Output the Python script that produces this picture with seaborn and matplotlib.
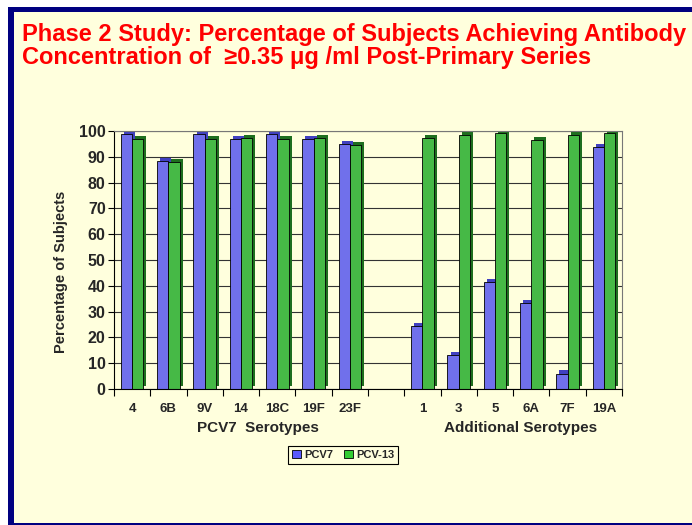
import matplotlib
matplotlib.use("Agg")
import matplotlib.pyplot as plt
import matplotlib.patches as mpatches
import matplotlib.patheffects as pe
import matplotlib.transforms as mtransforms
import seaborn as sns
import pandas as pd
import numpy as np

categories = ["4", "6B", "9V", "14", "18C", "19F", "23F", "", "1", "3", "5", "6A", "7F", "19A"]
pcv7 = [98.8, 88.4, 98.8, 97.0, 98.8, 97.0, 95.1, np.nan, 24.3, 13.0, 41.3, 33.3, 6.0, 93.9]
pcv13 = [96.8, 87.9, 96.8, 97.4, 96.8, 97.4, 94.6, np.nan, 97.3, 98.4, 99.4, 96.4, 98.4, 99.4]
series = ["PCV7", "PCV-13"]
group_labels = ["PCV7  Serotypes", "Additional Serotypes"]
title = "Phase 2 Study: Percentage of Subjects Achieving Antibody\nConcentration of  \u22650.35 \u03bcg /ml Post-Primary Series"

sns.set_theme(style="white")
plt.rcParams["font.family"] = ["Liberation Sans", "DejaVu Sans"]

cream = "#FFFFDD"
navy = "#000080"
blue = "#5B5BFF"
green = "#33CC33"

fig = plt.figure(figsize=(6.92, 5.25), dpi=100, facecolor="white")
W, H = 692, 525
fig.patches.append(mpatches.Rectangle((8 / W, 0), 1, 1 - 7 / H, transform=fig.transFigure,
                                      facecolor=navy, edgecolor="none", zorder=-10))
fig.patches.append(mpatches.Rectangle((14 / W, 2 / H), 1, 1 - 12 / H - 2 / H, transform=fig.transFigure,
                                      facecolor=cream, edgecolor="none", zorder=-9))

ax = fig.add_axes([114 / W, 1 - 389 / H, (622 - 114) / W, (389 - 131) / H])
ax.set_facecolor(cream)

df = pd.DataFrame({
    "cat": categories * 2,
    "val": pcv7 + pcv13,
    "series": [series[0]] * len(categories) + [series[1]] * len(categories),
})
sns.barplot(data=df, x="cat", y="val", hue="series", order=categories,
            palette=[blue, green], width=0.62, edgecolor="black", linewidth=0.6,
            ax=ax, legend=False, gap=0)

for i, cont in enumerate(ax.containers):
    sc = ["#4040C0", "#1E6E1E"][i]
    for p in cont.patches:
        p.set_path_effects([pe.SimplePatchShadow(offset=(2.2, 2.2), shadow_rgbFace=sc, alpha=1.0),
                            pe.Normal()])

ax.set_ylim(0, 100)
ax.set_xlim(-0.5, len(categories) - 0.5)
ax.set_yticks(range(0, 101, 10))
ax.set_yticklabels([str(v) for v in range(0, 101, 10)], fontsize=11.5, fontweight="bold")
ax.yaxis.grid(True, color="#333333", linewidth=0.8)
ax.set_axisbelow(True)
for s in ax.spines.values():
    s.set_color("black")
    s.set_linewidth(0.8)
ax.spines["top"].set_color("#777777")
ax.spines["right"].set_color("#777777")

ax.set_xticks(range(len(categories)))
ax.set_xticklabels(categories, fontsize=9.5, fontweight="bold")
ax.tick_params(axis="x", length=0, pad=10)
ax.tick_params(axis="y", length=4, width=0.8, color="black", left=True, pad=2)
ax.set_xticks(np.arange(-0.5, len(categories), 1.0), minor=True)
ax.tick_params(axis="x", which="minor", length=5, width=0.8, color="black", bottom=True)

ax.set_xlabel("")
ax.set_ylabel("Percentage of Subjects", fontsize=10.5, fontweight="bold")
ax.yaxis.set_label_coords((68 - 114) / 508, (389 - 272) / 258)

trans = mtransforms.blended_transform_factory(ax.transData, fig.transFigure)
ax.text(3.47, 1 - 428 / H, group_labels[0], transform=trans, ha="center", va="center",
        fontsize=11, fontweight="bold")
ax.text(10.7, 1 - 428 / H, group_labels[1], transform=trans, ha="center", va="center",
        fontsize=11, fontweight="bold")

handles = [mpatches.Patch(facecolor=blue, edgecolor="black", linewidth=0.6),
           mpatches.Patch(facecolor=green, edgecolor="black", linewidth=0.6)]
leg = fig.legend(handles, series, loc="center", bbox_to_anchor=(343 / W, 1 - 455 / H), ncol=2,
                 frameon=True, fancybox=False, edgecolor="black", facecolor=cream,
                 prop={"weight": "bold", "size": 8}, handlelength=0.8, handleheight=0.8,
                 handletextpad=0.3, columnspacing=1.0, borderpad=0.35, framealpha=1)
leg.get_frame().set_linewidth(0.8)

fig.text(22 / W, 1 - 23 / H, title, ha="left", va="top", color="#FF0000",
         fontsize=17, fontweight="bold", linespacing=1.0)

fig.savefig("out.png", dpi=100, facecolor=fig.get_facecolor())
